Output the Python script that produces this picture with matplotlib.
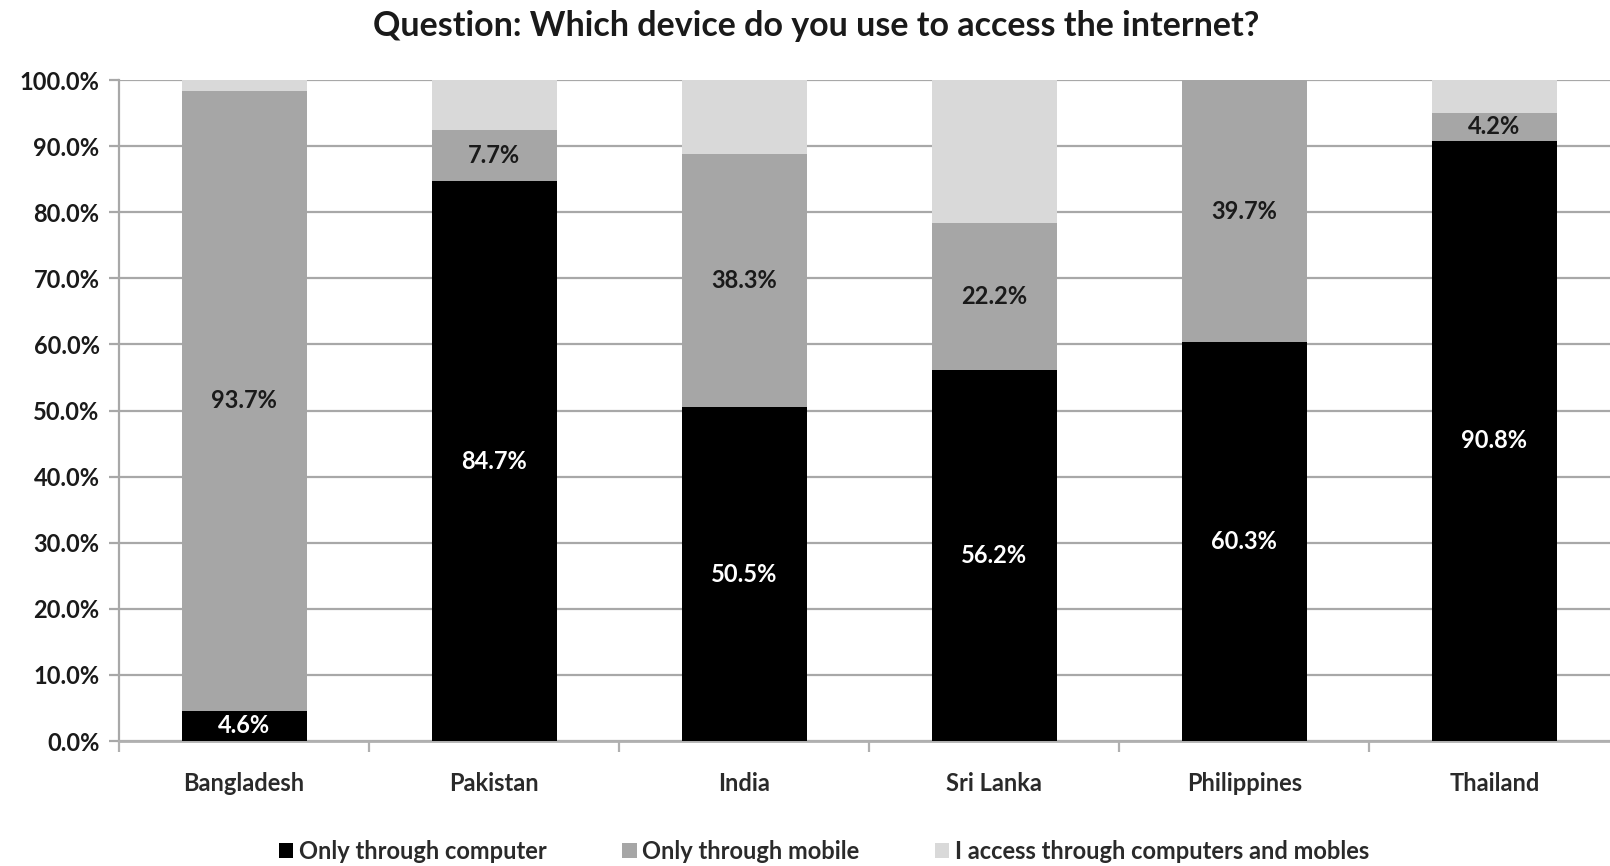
import matplotlib
matplotlib.use("Agg")
import matplotlib.pyplot as plt
from matplotlib.ticker import FixedLocator, PercentFormatter
import numpy as np

plt.rcParams['font.family'] = ['Lato', 'DejaVu Sans']

countries = ["Bangladesh", "Pakistan", "India", "Sri Lanka", "Philippines", "Thailand"]
only_computer = [4.6, 84.7, 50.5, 56.2, 60.3, 90.8]
only_mobile = [93.7, 7.7, 38.3, 22.2, 39.7, 4.2]
both = [1.7, 7.6, 11.2, 21.6, 0.0, 5.0]

series_names = ["Only through computer", "Only through mobile",
                "I access through computers and mobles"]
series_colors = ["#000000", "#a6a6a6", "#d9d9d9"]
label_colors = ["white", "#1a1a1a", None]

fig = plt.figure(figsize=(16.10, 8.66), dpi=100)
ax = fig.add_axes([0.0739, 0.1443, 0.932, 0.7633])

x = np.arange(len(countries))
width = 0.5
bottom = np.zeros(len(countries))
for vals, name, col, lcol in zip([only_computer, only_mobile, both],
                                 series_names, series_colors, label_colors):
    vals = np.array(vals)
    ax.bar(x, vals, width, bottom=bottom, color=col, label=name,
           zorder=3, linewidth=0)
    if lcol is not None:
        for xi, b, v in zip(x, bottom, vals):
            ax.text(xi, b + v / 2, f"{v:.1f}%", ha="center", va="center",
                    color=lcol, fontsize=17, fontweight="bold", zorder=4)
    bottom += vals

ax.set_xlim(-0.5, 5.5)
ax.set_ylim(0, 100)
ax.yaxis.set_major_locator(FixedLocator(np.arange(0, 101, 10)))
ax.yaxis.set_major_formatter(PercentFormatter(decimals=1))
ax.grid(axis="y", color="#a8a8a8", linewidth=1.6, zorder=0)
ax.set_axisbelow(True)

ax.set_xticks(x)
ax.set_xticklabels(countries)
ax.set_xticks(np.arange(-0.5, 5.6, 1.0), minor=True)
ax.tick_params(axis="x", which="major", length=0, pad=22, labelsize=17,
               labelcolor="#2a2a2a")
ax.tick_params(axis="x", which="minor", length=8, width=1.6, color="#b0b0b0")
ax.tick_params(axis="y", length=7, width=1.6, color="#a8a8a8", pad=7,
               labelsize=17, labelcolor="#1a1a1a")
for lab in ax.get_xticklabels() + ax.get_yticklabels():
    lab.set_fontweight("bold")

for side in ["top", "right"]:
    ax.spines[side].set_visible(False)
ax.spines["left"].set_color("#a8a8a8")
ax.spines["left"].set_linewidth(1.6)
ax.spines["bottom"].set_color("#b0b0b0")
ax.spines["bottom"].set_linewidth(2)

fig.text(0.507, 0.970, "Question: Which device do you use to access the internet?",
         ha="center", va="center", fontsize=24.5, fontweight="bold", color="#1a1a1a")

leg = fig.legend(loc="center", bbox_to_anchor=(0.512, 0.017), ncol=3,
                 frameon=False, fontsize=17, handlelength=0.6, handleheight=0.6,
                 handletextpad=0.25, columnspacing=3.2)
for t in leg.get_texts():
    t.set_fontweight("bold")
    t.set_color("#2a2a2a")

fig.savefig("out.png", dpi=100)
